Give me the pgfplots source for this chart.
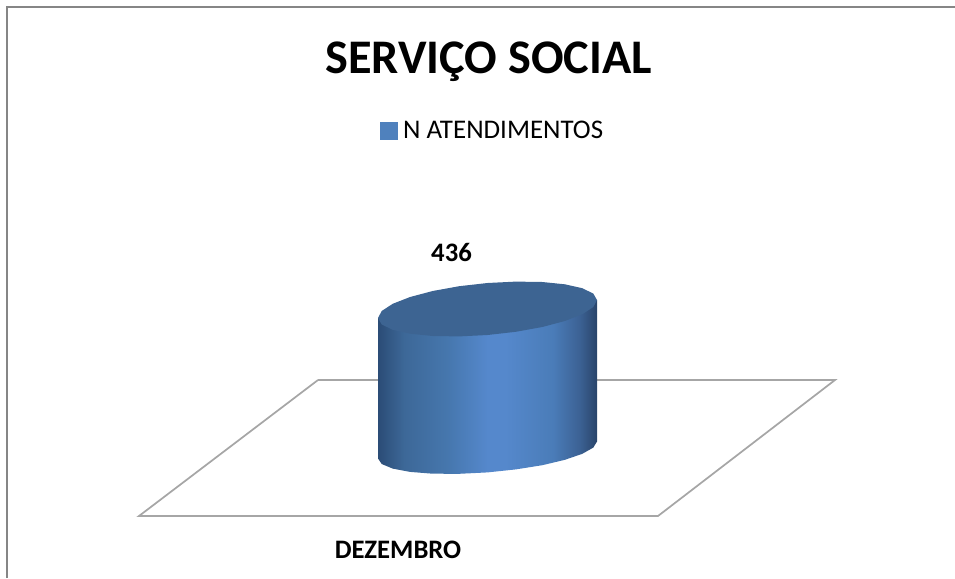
\documentclass[border=0pt]{standalone}
\usepackage{fontspec}
\setmainfont{Carlito}
\usepackage{pgfplots}
\pgfplotsset{compat=1.18}
\definecolor{framegray}{HTML}{868686}
\definecolor{floorgray}{HTML}{A6A6A6}
\definecolor{legblue}{HTML}{4F81BD}
\definecolor{captop}{HTML}{3D6492}
\definecolor{c0}{HTML}{2B4C76}
\definecolor{c1}{HTML}{3D6898}
\definecolor{c2}{HTML}{4677AE}
\definecolor{c3}{HTML}{5588CC}
\definecolor{c4}{HTML}{4A7CB8}
\definecolor{c5}{HTML}{3C6294}
\definecolor{c6}{HTML}{29446A}
\pgfdeclarehorizontalshading{cylbody}{100bp}{
  color(0bp)=(c0); color(25bp)=(c0);
  color(31bp)=(c1); color(41bp)=(c2);
  color(50bp)=(c3); color(54bp)=(c3);
  color(65bp)=(c4); color(71bp)=(c5);
  color(75bp)=(c6); color(100bp)=(c6)}
\begin{document}
\begin{tikzpicture}
\path[use as bounding box] (0,0) rectangle (716.25pt,433.5pt);
\begin{axis}[
    anchor=south west,
    at={(0,0)},
    scale only axis,
    width=716.25pt,
    height=433.5pt,
    xmin=0, xmax=955,
    ymin=0, ymax=578,
    y dir=reverse,
    axis lines=none,
    ticks=none,
    clip=false,
    legend style={at={(axis cs:493,131)}, anchor=center, draw=none, fill=none,
        font=\fontsize{20.2}{20.2}\selectfont, inner sep=0pt},
    legend image code/.code={
        \fill[legblue] (0.5pt,-5.7pt) rectangle (11.5pt,5.7pt);
    },
]
% moldura
\addplot[framegray, line width=2.1pt] coordinates {(7,578) (7,7) (955,7)};
% piso
\addplot[floorgray, line width=1.3pt] coordinates {(318,380) (835,380) (658,516) (139,516) (318,380)};
% corpo do cilindro
\addplot[draw=none, shading=cylbody, shade] coordinates {
    (378,318) (378,458.5) (381.7,464) (392.7,468.6) (410.1,471.9) (432.7,473.7)
    (459.2,473.8) (487.5,472.4) (515.8,469.4) (542.3,465.2) (564.9,459.8)
    (582.3,453.8) (593.3,447.6) (597,441.5) (597,300)
} -- cycle;
% tampo
\addplot[draw=none, fill=captop] coordinates {
    (597,300) (593.3,293.6) (582.3,288.2) (564.9,284.3) (542.3,282) (515.8,281.6)
    (487.5,283) (459.2,286.2) (432.7,291) (410.1,297) (392.7,303.8) (381.7,311)
    (378,318) (381.7,324.4) (392.7,329.8) (410.1,333.7) (432.7,336) (459.2,336.4)
    (487.5,335) (515.8,331.8) (542.3,327) (564.9,321) (582.3,314.2) (593.3,307)
} -- cycle;
\addlegendimage{legblue}
\addlegendentry{\hspace{2pt}N ATENDIMENTOS}
\node[font=\fontsize{36.2}{36.2}\selectfont\bfseries] at (axis cs:488.5,62) {SERVIÇO SOCIAL};
\node[font=\fontsize{20}{20}\selectfont\bfseries] at (axis cs:451.5,252) {436};
\node[font=\fontsize{20}{20}\selectfont\bfseries] at (axis cs:398,550) {DEZEMBRO};
\end{axis}
\end{tikzpicture}
\end{document}
